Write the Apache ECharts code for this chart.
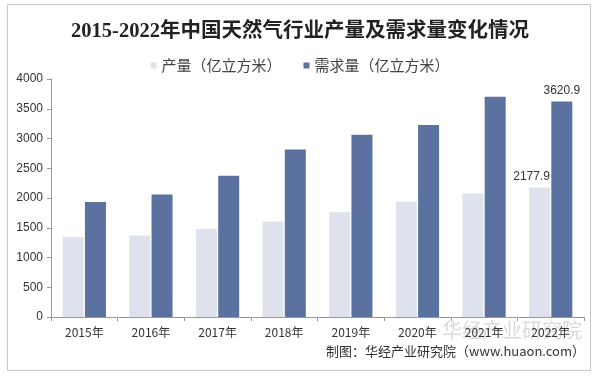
<!DOCTYPE html>
<html><head><meta charset="utf-8">
<script src="https://cdn.jsdelivr.net/npm/echarts@6/dist/echarts.min.js"></script>
<style>html,body{margin:0;padding:0;background:#fff}#c{width:600px;height:378px}</style>
</head><body><div id="c"></div>
<script>
const years = ['2015年','2016年','2017年','2018年','2019年','2020年','2021年','2022年'];
const production = [1346, 1369, 1480, 1603, 1762, 1935, 2076, 2177.9];
const demand = [1932, 2058, 2373, 2817, 3064, 3225, 3700, 3620.9];
const yTicks = [0, 500, 1000, 1500, 2000, 2500, 3000, 3500, 4000];
const seriesNames = ['产量（亿立方米）', '需求量（亿立方米）'];

const chart = echarts.init(document.getElementById('c'), null, {renderer: 'canvas'});
const lastIdx = years.length - 1;
chart.setOption({
  animation: false,
  backgroundColor: '#fff',
  title: {
    text: '2015-2022年中国天然气行业产量及需求量变化情况',
    left: 'center', top: 16,
    textStyle: {fontSize: 20.5, fontWeight: 'bold', color: '#222', fontFamily: '"Liberation Serif", "Noto Sans CJK SC", serif'}
  },
  legend: {
    top: 53, left: 'center', itemWidth: 6, itemHeight: 6, itemGap: 22,
    icon: 'rect',
    textStyle: {fontSize: 15, color: '#444', fontFamily: '"Noto Sans CJK SC", sans-serif'},
    data: seriesNames
  },
  grid: {left: 51, right: 16, top: 79, bottom: 61},
  xAxis: {
    type: 'category', data: years,
    axisLine: {lineStyle: {color: '#999'}},
    axisTick: {show: true, lineStyle: {color: '#999'}, length: 4},
    axisLabel: {color: '#333', fontSize: 12, margin: 9, fontFamily: '"Noto Sans CJK SC", sans-serif'}
  },
  yAxis: {
    type: 'value', min: yTicks[0], max: yTicks[yTicks.length - 1], interval: 500,
    axisLine: {show: true, lineStyle: {color: '#999'}},
    axisTick: {show: true, lineStyle: {color: '#999'}, length: 4},
    splitLine: {show: false},
    axisLabel: {color: '#333', fontSize: 12, margin: 8, fontFamily: 'Liberation Sans, Arial, sans-serif',
      formatter: v => String(v)}
  },
  series: [
    {
      name: seriesNames[0], type: 'bar', data: production,
      barWidth: 21, barGap: '6%',
      itemStyle: {color: '#dde2ec'},
      label: {show: true, position: 'top', offset: [-8, 0], color: '#333', fontSize: 12, fontFamily: 'Liberation Sans, Arial, sans-serif',
        formatter: p => p.dataIndex === lastIdx ? String(p.value) : ''}
    },
    {
      name: seriesNames[1], type: 'bar', data: demand,
      barWidth: 21,
      itemStyle: {color: '#5b72a1'},
      label: {show: true, position: 'top', color: '#333', fontSize: 12, fontFamily: 'Liberation Sans, Arial, sans-serif',
        formatter: p => p.dataIndex === lastIdx ? String(p.value) : ''}
    }
  ],
  graphic: [
    {type: 'rect', shape: {x: 7.5, y: 4.5, width: 583, height: 366}, style: {fill: 'none', stroke: '#c8c8c8', lineWidth: 1}, silent: true},
    {type: 'text', right: 15, top: 345, style: {text: '制图：华经产业研究院（www.huaon.com）', fill: '#333', fontSize: 13, fontFamily: '"Noto Sans CJK SC", sans-serif'}},
    {type: 'text', right: 18, top: 320, style: {text: '华经产业研究院', fill: 'rgba(150,150,150,0.35)', fontSize: 20, fontFamily: '"Noto Sans CJK SC", sans-serif'}}
  ]
});
</script></body></html>
